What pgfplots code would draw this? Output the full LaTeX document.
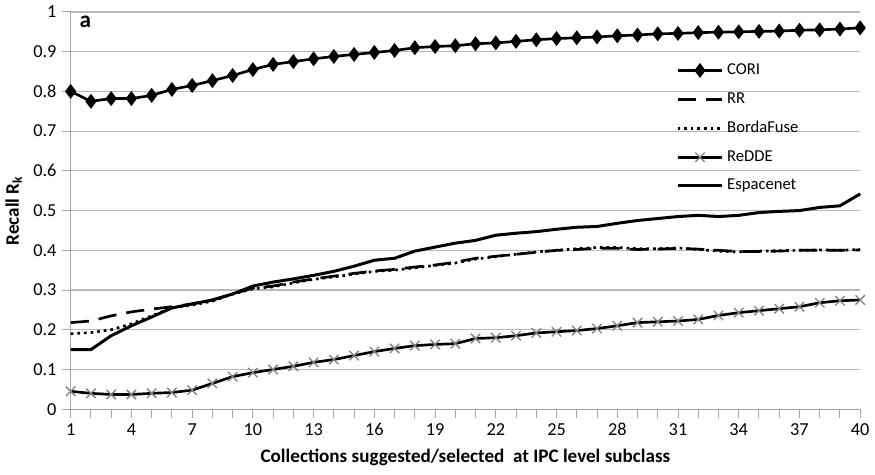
\documentclass[border=0pt]{standalone}
\usepackage{fontspec}
\setmainfont{Carlito}
\usepackage{pgfplots}
\pgfplotsset{compat=1.18}
\begin{document}
\begin{tikzpicture}
\begin{axis}[
 scale only axis,width=475pt,height=239pt,
 xmin=1,xmax=40,ymin=0,ymax=1,
 xtick={1,4,...,40},minor xtick={1,...,40},
 ytick={0,0.1,...,1},
 yticklabels={0,0.1,0.2,0.3,0.4,0.5,0.6,0.7,0.8,0.9,1},
 /pgf/number format/assume math mode=true,
 tick label style={font=\fontsize{11}{13}\selectfont},
 xtick pos=bottom,ytick pos=left,
 tick align=outside,major tick length=5pt,minor tick length=5pt,
 every tick/.style={draw=gray!70,line width=0.6pt},
 every minor tick/.style={draw=gray!70,line width=0.6pt},
 axis x line*=bottom,axis y line*=left,
 axis line style={draw=gray!70,line width=0.8pt,-},
 ymajorgrids,major grid style={draw=gray!55,line width=0.7pt},
 xlabel={\bfseries Collections suggested/selected\ \ at IPC level subclass},
 ylabel={\bfseries Recall R\textsubscript{k}},
 label style={font=\fontsize{11.5}{13}\selectfont},
 xlabel style={yshift=-1pt},
 clip=false,
 legend cell align=left,
 legend style={draw=none,fill=none,at={(0.76,0.887)},anchor=north west,
   font=\fontsize{10}{12}\selectfont,row sep=5.3pt},
 legend image code/.code={\draw[#1,line width=1.8pt] (0pt,0pt) -- (27pt,0pt);\path[#1,mark repeat=1] plot coordinates {(13.5pt,0pt)};},
]
\addplot[black,line width=1.6pt,mark=diamond*,mark size=3.2pt,mark options={solid}] coordinates {
(1,0.800)(2,0.775)(3,0.782)(4,0.782)(5,0.790)(6,0.805)(7,0.815)(8,0.827)(9,0.840)(10,0.855)
(11,0.868)(12,0.875)(13,0.882)(14,0.888)(15,0.893)(16,0.898)(17,0.903)(18,0.910)(19,0.913)(20,0.915)
(21,0.920)(22,0.922)(23,0.926)(24,0.930)(25,0.933)(26,0.935)(27,0.937)(28,0.940)(29,0.942)(30,0.945)
(31,0.946)(32,0.948)(33,0.949)(34,0.950)(35,0.951)(36,0.952)(37,0.954)(38,0.955)(39,0.957)(40,0.960)};
\addplot[black,line width=1.6pt,dash pattern=on 11pt off 6pt,mark=none] coordinates {
(1,0.218)(2,0.222)(3,0.235)(4,0.245)(5,0.252)(6,0.258)(7,0.265)(8,0.275)(9,0.290)(10,0.305)
(11,0.310)(12,0.320)(13,0.328)(14,0.335)(15,0.342)(16,0.348)(17,0.352)(18,0.358)(19,0.363)(20,0.370)
(21,0.380)(22,0.385)(23,0.390)(24,0.395)(25,0.400)(26,0.402)(27,0.405)(28,0.405)(29,0.402)(30,0.403)
(31,0.405)(32,0.403)(33,0.400)(34,0.397)(35,0.397)(36,0.398)(37,0.400)(38,0.400)(39,0.400)(40,0.401)};
\addplot[black,line width=1.6pt,dash pattern=on 1.6pt off 2.4pt,mark=none] coordinates {
(1,0.190)(2,0.193)(3,0.200)(4,0.215)(5,0.235)(6,0.255)(7,0.262)(8,0.272)(9,0.290)(10,0.303)
(11,0.308)(12,0.318)(13,0.327)(14,0.333)(15,0.340)(16,0.347)(17,0.350)(18,0.356)(19,0.362)(20,0.368)
(21,0.378)(22,0.384)(23,0.390)(24,0.396)(25,0.400)(26,0.404)(27,0.407)(28,0.407)(29,0.404)(30,0.404)
(31,0.406)(32,0.402)(33,0.398)(34,0.396)(35,0.398)(36,0.399)(37,0.400)(38,0.401)(39,0.400)(40,0.402)};
\addplot[black,line width=1.6pt,mark=x,mark size=4pt,mark options={solid,draw=gray,line width=0.8pt}] coordinates {
(1,0.045)(2,0.040)(3,0.037)(4,0.037)(5,0.040)(6,0.042)(7,0.048)(8,0.065)(9,0.082)(10,0.092)
(11,0.100)(12,0.108)(13,0.118)(14,0.125)(15,0.135)(16,0.145)(17,0.153)(18,0.160)(19,0.163)(20,0.165)
(21,0.178)(22,0.180)(23,0.185)(24,0.192)(25,0.195)(26,0.198)(27,0.203)(28,0.210)(29,0.218)(30,0.220)
(31,0.222)(32,0.226)(33,0.236)(34,0.243)(35,0.248)(36,0.253)(37,0.258)(38,0.268)(39,0.273)(40,0.275)};
\addplot[black,line width=1.8pt,mark=none] coordinates {
(1,0.150)(2,0.150)(3,0.185)(4,0.210)(5,0.232)(6,0.255)(7,0.265)(8,0.275)(9,0.290)(10,0.310)
(11,0.320)(12,0.328)(13,0.337)(14,0.347)(15,0.360)(16,0.375)(17,0.380)(18,0.398)(19,0.408)(20,0.418)
(21,0.425)(22,0.438)(23,0.443)(24,0.447)(25,0.453)(26,0.458)(27,0.460)(28,0.468)(29,0.475)(30,0.480)
(31,0.485)(32,0.488)(33,0.485)(34,0.488)(35,0.495)(36,0.498)(37,0.500)(38,0.508)(39,0.512)(40,0.542)};
\legend{CORI,RR,BordaFuse,ReDDE,Espacenet}
\node[anchor=north west,font=\fontsize{14}{16}\selectfont\bfseries] at (rel axis cs:0.004,1.005) {a};
\end{axis}
\useasboundingbox (current axis.south west) ++(-42pt,-39pt) rectangle ([xshift=7.8pt,yshift=7.2pt]current axis.north east);
\end{tikzpicture}
\end{document}
